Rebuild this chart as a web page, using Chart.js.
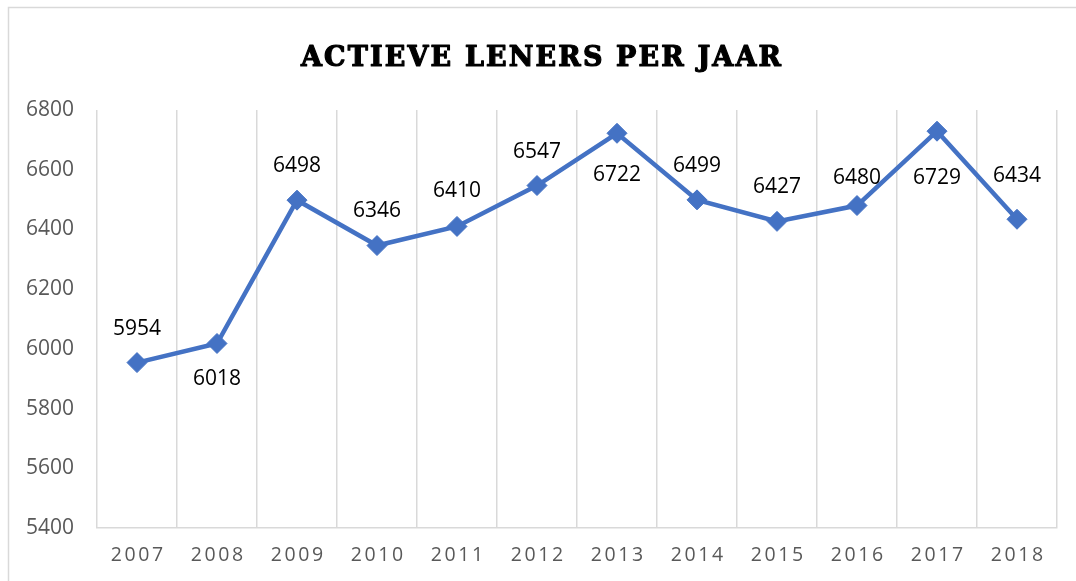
<!DOCTYPE html>
<html>
<head>
<meta charset="utf-8">
<script src="https://cdn.jsdelivr.net/npm/chart.js@4"></script>
<style>
  html, body { margin: 0; padding: 0; background: #fff; }
  #wrap { width: 1076px; height: 581px; }
</style>
</head>
<body>
<div id="wrap"><canvas id="myChart" width="1076" height="581"></canvas></div>
<script>
const years = ['2007', '2008', '2009', '2010', '2011', '2012', '2013', '2014', '2015', '2016', '2017', '2018'];
const leners = [5954, 6018, 6498, 6346, 6410, 6547, 6722, 6499, 6427, 6480, 6729, 6434];
const yTicks = [5400, 5600, 5800, 6000, 6200, 6400, 6600, 6800];

// vertical shift of each value label (negative = above the point)
const labelShift = [-34, 36, -34, -35, -35, -34, 42, -34, -34, -28, 47, -43];

const blue = '#4472C4';
const gray = '#d9d9d9';

// outer border of the chart box
const frame = {
  id: 'frame',
  beforeDraw(chart) {
    const ctx = chart.ctx;
    ctx.save();
    ctx.strokeStyle = gray;
    ctx.lineWidth = 1.5;
    ctx.beginPath();
    ctx.moveTo(8.5, 600);
    ctx.lineTo(8.5, 7.5);
    ctx.lineTo(1100, 7.5);
    ctx.stroke();
    ctx.restore();
  }
};

const titleText = {
  id: 'titleText',
  afterDraw(chart) {
    const ctx = chart.ctx;
    const txt = 'ACTIEVE LENERS PER JAAR';
    ctx.save();
    ctx.font = 'bold 27px "DejaVu Serif"';
    ctx.fillStyle = '#000';
    ctx.strokeStyle = '#000';
    ctx.lineWidth = 1.2;
    ctx.lineJoin = 'round';
    ctx.textAlign = 'left';
    ctx.textBaseline = 'alphabetic';
    ctx.letterSpacing = '0px';
    const w0 = ctx.measureText(txt).width;
    const sp = (480 - w0) / (txt.length - 1);
    ctx.letterSpacing = sp + 'px';
    ctx.fillText(txt, 301, 66);
    ctx.strokeText(txt, 301, 66);
    ctx.restore();
  }
};

// x labels with letter spacing, drawn at the scale's own positions
const xLabels = {
  id: 'xLabels',
  afterDraw(chart) {
    const ctx = chart.ctx;
    const xs = chart.scales.x;
    ctx.save();
    ctx.font = '19.5px "Open Sans"';
    ctx.fillStyle = '#595959';
    ctx.textAlign = 'left';
    ctx.textBaseline = 'middle';
    ctx.letterSpacing = '2.6px';
    years.forEach(function (y, i) {
      const w = ctx.measureText(y).width - 2.6;
      ctx.fillText(y, xs.getPixelForValue(i) - w / 2, 555);
    });
    ctx.restore();
  }
};

const valueLabels = {
  id: 'valueLabels',
  afterDatasetsDraw(chart) {
    const ctx = chart.ctx;
    const meta = chart.getDatasetMeta(0);
    ctx.save();
    ctx.font = '21px "Open Sans"';
    ctx.fillStyle = '#000';
    ctx.textAlign = 'center';
    ctx.textBaseline = 'middle';
    meta.data.forEach(function (pt, i) {
      ctx.fillText(String(leners[i]), pt.x, pt.y + labelShift[i]);
    });
    ctx.restore();
  }
};

const data = {
  labels: years,
  datasets: [{
    label: 'Actieve leners',
    data: leners,
    borderColor: blue,
    backgroundColor: blue,
    borderWidth: 4.5,
    tension: 0,
    pointStyle: 'rectRot',
    pointRadius: 10,
    pointBorderWidth: 1,
    pointBackgroundColor: blue,
    pointBorderColor: blue
  }]
};

const config = {
  type: 'line',
  data: data,
  options: {
    responsive: false,
    animation: false,
    layout: { padding: { top: 110, right: 19, left: 0, bottom: 0 } },
    plugins: {
      legend: { display: false },
      title: { display: false },
      tooltip: { enabled: false }
    },
    scales: {
      x: {
        offset: true,
        grid: { offset: true, color: gray, lineWidth: 1.5, drawTicks: false },
        border: { color: gray, width: 1.5 },
        ticks: { display: false },
        afterFit(scale) { scale.height = 53; }
      },
      y: {
        min: 5400,
        max: 6800,
        grid: { display: false, drawTicks: false },
        border: { display: false },
        afterBuildTicks(scale) { scale.ticks = yTicks.map(function (v) { return { value: v }; }); },
        ticks: {
          padding: 23,
          color: '#595959',
          font: { family: 'Open Sans', size: 21 },
          callback: function (v) { return String(v); }
        },
        afterFit(scale) { scale.width = 97; }
      }
    }
  },
  plugins: [frame, titleText, xLabels, valueLabels]
};

const myChart = new Chart(document.getElementById('myChart'), config);
</script>
</body>
</html>
